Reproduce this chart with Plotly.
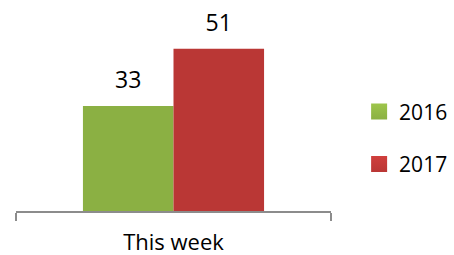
import plotly.graph_objects as go

categories = ["This week"]
series_names = ["2016", "2017"]
values_2016 = [33]
values_2017 = [51]
colors = ["#8BB043", "#BA3735"]
colors_top = ["#9DC54B", "#D03F3D"]

FONT = "Open Sans"
fig = go.Figure()

for name, vals, col in zip(series_names, [values_2016, values_2017], colors):
    fig.add_trace(go.Bar(
        x=categories, y=vals, name=name, marker=dict(color=col, line=dict(width=0)),
        showlegend=False, hoverinfo="skip", offsetgroup=name, alignmentgroup="a",
    ))

# value labels (grouped scatter aligned with bars)
for name, vals in zip(series_names, [values_2016, values_2017]):
    fig.add_trace(go.Scatter(
        x=categories, y=vals, mode="markers+text", text=[str(v) for v in vals],
        textposition="top center", marker=dict(size=18, opacity=0, color="white"),
        textfont=dict(family=FONT, size=23, color="#000000"),
        showlegend=False, hoverinfo="skip", cliponaxis=False,
        offsetgroup=name, alignmentgroup="a",
    ))

# legend entries
for name, col, top in zip(series_names, colors, colors_top):
    fig.add_trace(go.Scatter(
        x=[None], y=[None], mode="markers", name=name, legendgroup=name,
        marker=dict(symbol="square", size=16, color=top,
                    gradient=dict(type="vertical", color=col), line=dict(width=0)),
    ))

fig.update_layout(
    width=454, height=255,
    margin=dict(l=16, r=123, t=20, b=44, autoexpand=False),
    paper_bgcolor="white", plot_bgcolor="white",
    barmode="group", bargap=0.425, bargroupgap=0,
    scattermode="group", scattergap=0.425,
    font=dict(family=FONT, size=23, color="#000000"),
    xaxis=dict(showline=True, linecolor="#8C8C8C", linewidth=1.5,
               ticks="outside", tickson="boundaries", ticklen=8, tickwidth=1.5,
               tickcolor="#8C8C8C", showgrid=False, zeroline=False,
               ticklabelstandoff=11,
               tickfont=dict(family=FONT, size=22, color="#000000")),
    yaxis=dict(range=[0, 60], visible=False, showgrid=False, zeroline=False),
    legend=dict(xref="container", yref="container", x=0.791, y=0.459, xanchor="left",
                yanchor="middle", traceorder="grouped", tracegroupgap=22,
                font=dict(family=FONT, size=21, color="#000000"), itemsizing="trace"),
    showlegend=True,
)

fig.write_html("out.html", config={"displayModeBar": False},
               post_script="document.body.style.margin='0';")
